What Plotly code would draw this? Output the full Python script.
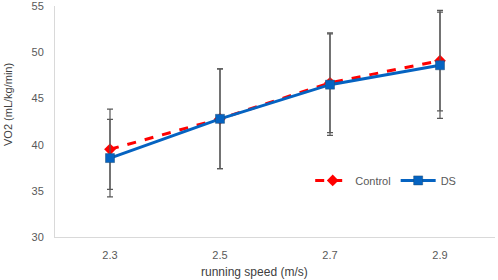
import plotly.graph_objects as go

speeds = ["2.3", "2.5", "2.7", "2.9"]
control_mean = [39.5, 42.8, 46.7, 49.1]
control_sd = [4.35, 5.4, 5.4, 5.45]
ds_mean = [38.55, 42.8, 46.5, 48.6]
ds_sd = [4.2, 5.4, 5.5, 5.75]

fig = go.Figure()
fig.add_trace(go.Scatter(
    x=speeds, y=control_mean, name="Control", mode="lines+markers",
    line=dict(color="#FF0000", width=3, dash="dash"),
    marker=dict(symbol="diamond", size=9, color="#FF0000"),
    error_y=dict(type="data", array=control_sd, visible=True, color="#595959", thickness=1.2, width=3),
))
fig.add_trace(go.Scatter(
    x=speeds, y=ds_mean, name="DS", mode="lines+markers",
    line=dict(color="#0563C1", width=3),
    marker=dict(symbol="square", size=9, color="#0563C1", line=dict(color="#1F4E79", width=0.5)),
    error_y=dict(type="data", array=ds_sd, visible=True, color="#595959", thickness=1.2, width=3),
))

fig.update_layout(
    width=498, height=280,
    margin=dict(l=55, r=3, t=6, b=43, autoexpand=False),
    paper_bgcolor="white", plot_bgcolor="white",
    font=dict(family="Liberation Sans, Arial, sans-serif", size=11, color="#595959"),
    showlegend=True,
    legend=dict(orientation="h", x=0.58, y=0.245, xanchor="left", yanchor="middle",
                bgcolor="rgba(0,0,0,0)", font=dict(size=11, color="#595959"), itemwidth=35),
    xaxis=dict(type="category", range=[-0.5, 3.5], showline=True, linecolor="#D9D9D9", linewidth=1,
               showgrid=False, ticks="", zeroline=False, automargin=False, ticklabelstandoff=8),
    yaxis=dict(range=[30, 55.02], tickvals=[30, 35, 40, 45, 50, 55], showline=True, linecolor="#D9D9D9",
               linewidth=1, showgrid=False, ticks="", zeroline=False, automargin=False,
               ticklabelstandoff=8, ticklabeloverflow="allow"),
    annotations=[
        dict(text="running speed (m/s)", xref="paper", yref="paper", x=(254 - 55) / 440, y=-(272 - 237) / 231,
             xanchor="center", yanchor="middle", showarrow=False, font=dict(size=12, color="#404040")),
        dict(text="VO2 (mL/kg/min)", xref="paper", yref="paper", x=-(55 - 8) / 440, y=(237 - 105) / 231,
             xanchor="center", yanchor="middle", showarrow=False, textangle=-90,
             font=dict(size=11, color="#404040")),
    ],
)

fig.write_html("out.html", config={"displayModeBar": False},
               post_script="document.body.style.margin='0';document.body.style.overflow='hidden';")
